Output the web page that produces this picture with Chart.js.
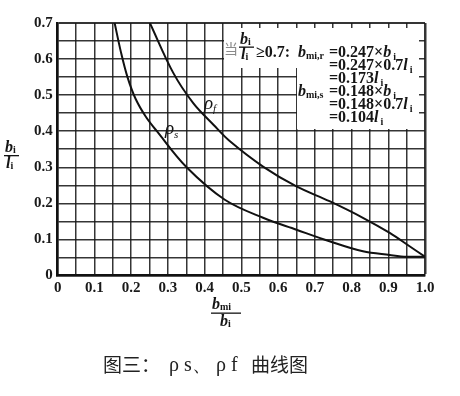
<!DOCTYPE html>
<html>
<head>
<meta charset="utf-8">
<script src="https://cdn.jsdelivr.net/npm/chart.js@4/dist/chart.umd.min.js"></script>
<style>
  html, body { margin: 0; padding: 0; background: #ffffff; }
  #wrap { width: 460px; height: 396px; }
</style>
</head>
<body>
<div id="wrap"><canvas id="c" width="460" height="396"></canvas></div>
<script>
// ---- data ----
const rhoS_x = [0.155, 0.172, 0.19, 0.212, 0.24, 0.27, 0.351, 0.455, 0.559, 0.65, 0.74, 0.831, 0.904, 0.95, 1.0];
const rhoS_y = [0.70, 0.62, 0.55, 0.49, 0.44, 0.40, 0.30, 0.21, 0.16, 0.127, 0.095, 0.067, 0.057, 0.052, 0.052];
const rhoF_x = [0.251, 0.315, 0.369, 0.424, 0.469, 0.559, 0.65, 0.74, 0.831, 0.904, 0.958, 1.0];
const rhoF_y = [0.70, 0.561, 0.478, 0.418, 0.372, 0.302, 0.247, 0.206, 0.16, 0.118, 0.081, 0.052];
const xTickValues = [0, 0.1, 0.2, 0.3, 0.4, 0.5, 0.6, 0.7, 0.8, 0.9, 1.0];
const xTickLabels = ['0', '0.1', '0.2', '0.3', '0.4', '0.5', '0.6', '0.7', '0.8', '0.9', '1.0'];
const yTickValues = [0, 0.1, 0.2, 0.3, 0.4, 0.5, 0.6, 0.7];
const yTickLabels = ['0', '0.1', '0.2', '0.3', '0.4', '0.5', '0.6', '0.7'];
const captionText = ['图三：', 'ρ s、', 'ρ f', '曲线图'];

const toPts = (xs, ys) => xs.map((x, i) => ({ x: x, y: ys[i] }));
const labelFor = (vals, labels, v) => {
  const i = vals.findIndex(t => Math.abs(t - v) < 1e-6);
  return i >= 0 ? labels[i] : '';
};

const SERIF = '"Liberation Serif", "DejaVu Serif", serif';
const CJK = '"Noto Sans CJK SC", sans-serif';

// draw a run of segments: [text, font, dy, extraGapAfter]
function run(ctx, x, y, segs) {
  for (const s of segs) {
    ctx.font = s[1];
    ctx.fillText(s[0], x, y + (s[2] || 0));
    x += ctx.measureText(s[0]).width + (s[3] || 0);
  }
  return x;
}

const B = 'bold 16px ' + SERIF;
const BI = 'italic bold 16px ' + SERIF;
const SUB = 'bold 10px ' + SERIF;

const decor = {
  id: 'decor',
  afterDraw(chart) {
    const ctx = chart.ctx;
    ctx.save();
    ctx.textBaseline = 'alphabetic';
    ctx.textAlign = 'left';
    // white boxes behind the annotation
    ctx.fillStyle = '#ffffff';
    ctx.fillRect(224, 28, 195, 40);
    ctx.fillRect(297, 60, 122, 69);
    // line 1
    ctx.fillStyle = '#8a8a8a';
    ctx.font = '14px ' + CJK;
    ctx.fillText('当', 224, 54);
    ctx.fillStyle = '#151515';
    run(ctx, 240, 44, [['b', BI], ['i', SUB, 1]]);
    ctx.fillRect(239, 46.5, 15, 1.3);
    run(ctx, 241, 59, [['l', BI], ['i', SUB, 1]]);
    run(ctx, 256, 57, [['≥0.7:', B]]);
    run(ctx, 298, 57, [['b', BI], ['mi,r', SUB, 2]]);
    run(ctx, 329, 57, [['=0.247×', B], ['b', BI, 0, 2], ['i', SUB, 3]]);
    run(ctx, 329, 70, [['=0.247×0.7', B], ['l', BI, 0, 2], ['i', SUB, 3]]);
    run(ctx, 329, 83, [['=0.173', B], ['l', BI, 0, 2], ['i', SUB, 3]]);
    run(ctx, 298, 96, [['b', BI], ['mi,s', SUB, 2]]);
    run(ctx, 329, 96, [['=0.148×', B], ['b', BI, 0, 2], ['i', SUB, 3]]);
    run(ctx, 329, 109, [['=0.148×0.7', B], ['l', BI, 0, 2], ['i', SUB, 3]]);
    run(ctx, 329, 122, [['=0.104', B], ['l', BI, 0, 2], ['i', SUB, 3]]);

    // curve labels
    run(ctx, 204, 109, [['ρ', 'italic 19px ' + SERIF], ['f', 'italic 11px ' + SERIF, 3]]);
    run(ctx, 165, 134, [['ρ', 'italic 19px ' + SERIF], ['s', 'italic 11px ' + SERIF, 4]]);

    // y-axis title (fraction)
    run(ctx, 5, 152, [['b', BI], ['i', SUB, 1]]);
    ctx.fillRect(4, 155, 15, 1.3);
    run(ctx, 6, 168, [['l', BI], ['i', SUB, 1]]);
    // x-axis title (fraction)
    run(ctx, 212, 309, [['b', BI], ['mi', SUB, 1]]);
    ctx.fillRect(211, 312.5, 30, 1.3);
    run(ctx, 220, 326, [['b', BI], ['i', SUB, 1]]);

    // caption
    ctx.fillStyle = '#222';
    ctx.font = '19px ' + CJK;
    ctx.fillText(captionText[0], 103, 372);
    ctx.font = '20px ' + SERIF;
    ctx.fillText(captionText[1], 169, 371);
    ctx.fillText(captionText[2], 216, 371);
    ctx.font = '19px ' + CJK;
    ctx.fillText(captionText[3], 251, 372);
    ctx.restore();
  }
};

const gridColor = 'rgba(25,25,25,0.88)';
new Chart(document.getElementById('c'), {
  type: 'scatter',
  data: {
    datasets: [
      { label: 'ρs', data: toPts(rhoS_x, rhoS_y), showLine: true, borderColor: '#111', borderWidth: 2,
        pointRadius: 0, tension: 0.35, fill: false },
      { label: 'ρf', data: toPts(rhoF_x, rhoF_y), showLine: true, borderColor: '#111', borderWidth: 2,
        pointRadius: 0, tension: 0.35, fill: false }
    ]
  },
  options: {
    responsive: false,
    devicePixelRatio: 1,
    animation: false,
    events: [],
    layout: { padding: { left: 0, top: 23, right: 35, bottom: 90.5 } },
    plugins: { legend: { display: false }, tooltip: { enabled: false } },
    scales: {
      x: {
        type: 'linear', min: 0, max: 1.0,
        afterFit: s => { s.height = 30; },
        afterBuildTicks: s => { s.ticks = []; for (let i = 0; i <= 20; i++) s.ticks.push({ value: i * 0.05 }); },
        ticks: {
          autoSkip: false, maxRotation: 0, padding: 4, color: '#1a1a1a',
          font: { family: SERIF, size: 15, weight: 'bold' },
          callback: v => labelFor(xTickValues, xTickLabels, v)
        },
        grid: { color: gridColor, lineWidth: c => (c.tick && Math.abs(c.tick.value - 1) < 1e-6) ? 2.5 : 1.5, drawTicks: false },
        border: { display: true, color: '#111', width: 2.5 }
      },
      y: {
        type: 'linear', min: 0, max: 0.7,
        afterFit: s => { s.width = 57.7; },
        afterBuildTicks: s => { s.ticks = []; for (let i = 0; i <= 14; i++) s.ticks.push({ value: i * 0.05 }); },
        ticks: {
          autoSkip: false, padding: 5, color: '#1a1a1a',
          font: { family: SERIF, size: 15, weight: 'bold' },
          callback: v => labelFor(yTickValues, yTickLabels, v)
        },
        grid: { color: gridColor, lineWidth: c => (c.tick && Math.abs(c.tick.value - 0.7) < 1e-6) ? 2 : 1.5, drawTicks: false },
        border: { display: true, color: '#111', width: 2.5 }
      }
    }
  },
  plugins: [decor]
});
</script>
</body>
</html>
